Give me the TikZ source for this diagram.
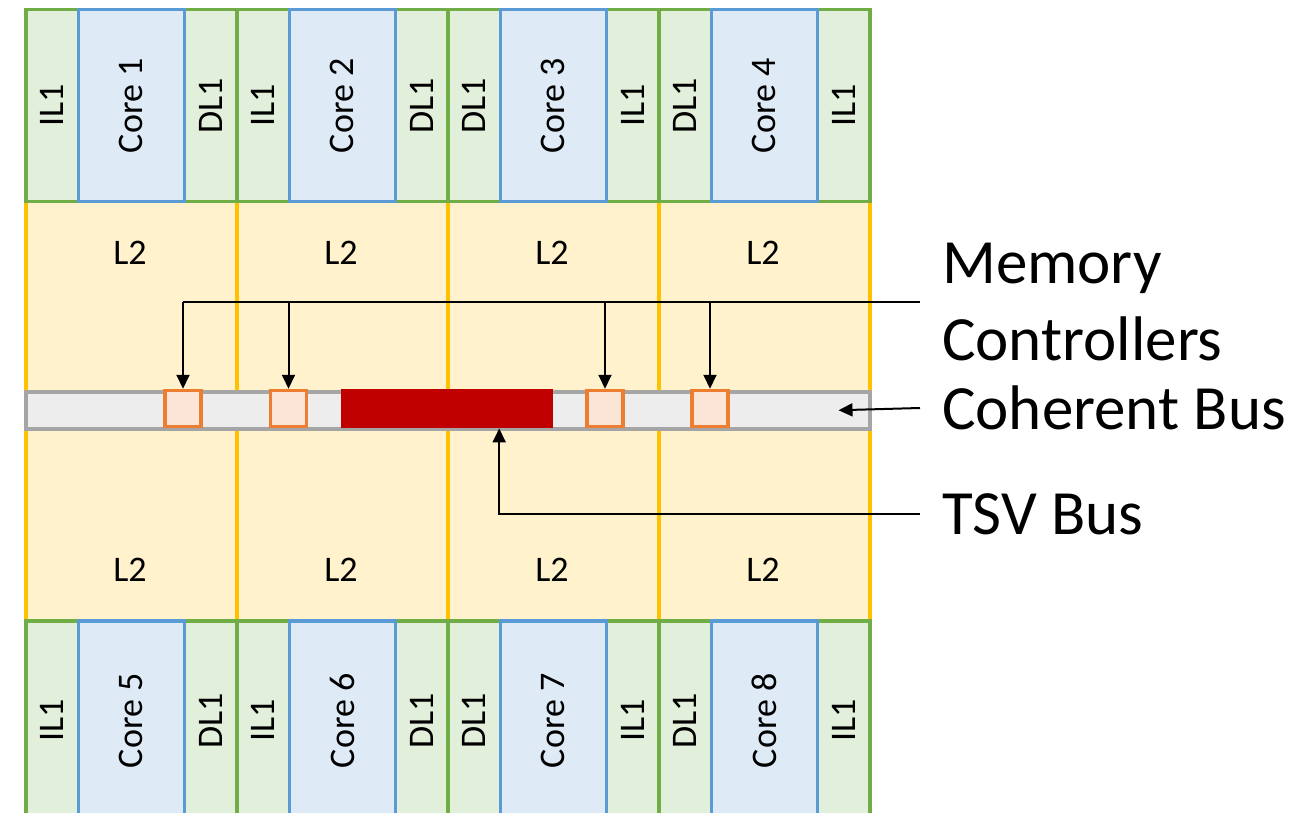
\documentclass[tikz,border=0pt]{standalone}
\usepackage{fontspec}
\setmainfont{Carlito}
\usepackage{tikz}
\usetikzlibrary{arrows.meta,positioning}

\definecolor{lonefill}{HTML}{E2EFDA}
\definecolor{lonedraw}{HTML}{70AD47}
\definecolor{corefill}{HTML}{DEEBF7}
\definecolor{coredraw}{HTML}{5B9BD5}
\definecolor{ltwofill}{HTML}{FFF2CC}
\definecolor{ltwodraw}{HTML}{FFC000}
\definecolor{busfill}{HTML}{EDEDED}
\definecolor{busdraw}{HTML}{A5A5A5}
\definecolor{mcfill}{HTML}{FBE5D6}
\definecolor{mcdraw}{HTML}{ED7D31}
\definecolor{tsvred}{HTML}{C00000}

\begin{document}
\begin{tikzpicture}[x=1pt,y=-1pt,
	l1box/.style={draw=lonedraw, fill=lonefill, line width=3.5pt, inner sep=0pt,
		minimum width=52.5pt, anchor=north west, font=\fontsize{36}{43}\selectfont},
	corebox/.style={l1box, draw=coredraw, fill=corefill, minimum width=106pt},
	ltwobox/.style={draw=ltwodraw, fill=ltwofill, line width=3.5pt,
		minimum width=211pt, minimum height=419pt, anchor=north west},
	ltwotext/.style={inner sep=0pt, font=\fontsize{36}{43}\selectfont},
	busbox/.style={draw=busdraw, fill=busfill, line width=3.5pt, anchor=north west,
		minimum width=844pt, minimum height=37pt},
	tsvbox/.style={fill=tsvred, anchor=north west, minimum width=212pt, minimum height=39pt},
	mcbox/.style={draw=mcdraw, fill=mcfill, line width=3.5pt, minimum size=36pt},
	bigtext/.style={inner sep=0pt, anchor=west, align=left, font=\fontsize{63}{77}\selectfont},
	arrowline/.style={line width=2pt, -{Triangle[length=14pt,width=13pt]}},
	leadline/.style={line width=1.2pt}]
	\newcommand\CoreRow[7]{%
		\node[l1box, minimum height=#4] (#1l) at (#2,#3) {\rotatebox{90}{#5}};
		\node[l1box, minimum height=#4] (#1r) at (#2+158.5,#3) {\rotatebox{90}{#7}};
		\node[corebox, minimum height=#4] (#1core) at (#2+52.5,#3) {\rotatebox{90}{#6}};
	}

	\useasboundingbox (0,0) rectangle (1299,813);
	\clip (0,0) rectangle (1299,813);

	\node[ltwobox] (ltwo1) at (24,200) {};
	\node[ltwobox] (ltwo2) at (235,200) {};
	\node[ltwobox] (ltwo3) at (446,200) {};
	\node[ltwobox] (ltwo4) at (657,200) {};

	\node[ltwotext] (ltwo1up) at (130,253) {L2};
	\node[ltwotext] (ltwo2up) at (341,253) {L2};
	\node[ltwotext] (ltwo3up) at (552,253) {L2};
	\node[ltwotext] (ltwo4up) at (763,253) {L2};
	\node[ltwotext] (ltwo1dn) at (130,570) {L2};
	\node[ltwotext] (ltwo2dn) at (341,570) {L2};
	\node[ltwotext] (ltwo3dn) at (552,570) {L2};
	\node[ltwotext] (ltwo4dn) at (763,570) {L2};

	\CoreRow{up1}{24}{8}{192pt}{IL1}{Core 1}{DL1}
	\CoreRow{up2}{235}{8}{192pt}{IL1}{Core 2}{DL1}
	\CoreRow{up3}{446}{8}{192pt}{DL1}{Core 3}{IL1}
	\CoreRow{up4}{657}{8}{192pt}{DL1}{Core 4}{IL1}
	\CoreRow{dn1}{24}{619}{200pt}{IL1}{Core 5}{DL1}
	\CoreRow{dn2}{235}{619}{200pt}{IL1}{Core 6}{DL1}
	\CoreRow{dn3}{446}{619}{200pt}{DL1}{Core 7}{IL1}
	\CoreRow{dn4}{657}{619}{200pt}{DL1}{Core 8}{IL1}

	\node[busbox] (bus) at (24,390) {};
	\node[tsvbox] (tsv) at (341,389) {};
	\node[mcbox] (mc1) at (183,408.5) {};
	\node[mcbox] (mc2) at (288.5,408.5) {};
	\node[mcbox] (mc3) at (605,408.5) {};
	\node[mcbox] (mc4) at (710,408.5) {};

	\node[bigtext] (mctext) at (942,302) {Memory\\Controllers};
	\node[bigtext] (cbtext) at (942,408) {Coherent Bus};
	\node[bigtext] (tsvtext) at (942,514) {TSV Bus};

	\draw[leadline] ([xshift=-22pt]mctext.west) -- (mc1.north |- mctext.west);
	\draw[arrowline] (mc1.north |- mctext.west) -- (mc1.north);
	\draw[arrowline] (mc2.north |- mctext.west) -- (mc2.north);
	\draw[arrowline] (mc3.north |- mctext.west) -- (mc3.north);
	\draw[arrowline] (mc4.north |- mctext.west) -- (mc4.north);
	\draw[arrowline] ([xshift=-22pt]cbtext.west) -- ([xshift=-33pt]bus.east);
	\draw[arrowline] ([xshift=-22pt]tsvtext.west) -| ([xshift=52pt]tsv.south);
\end{tikzpicture}
\end{document}
